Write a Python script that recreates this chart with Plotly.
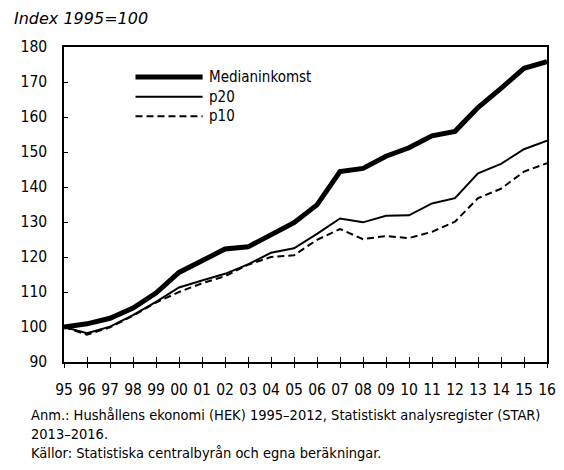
import plotly.graph_objects as go

years = list(range(1995, 2017))
tick_labels = ["95", "96", "97", "98", "99", "00", "01", "02", "03", "04", "05",
               "06", "07", "08", "09", "10", "11", "12", "13", "14", "15", "16"]
median = [100.0, 100.9, 102.5, 105.4, 109.7, 115.6, 118.9, 122.3, 122.9, 126.3, 129.8,
          134.9, 144.4, 145.3, 148.8, 151.2, 154.6, 155.9, 162.7, 168.2, 173.9, 175.8]
p20 = [100.0, 98.2, 100.1, 103.4, 107.2, 111.3, 113.3, 115.2, 117.9, 121.2, 122.5,
       126.6, 131.0, 129.9, 131.8, 131.9, 135.3, 136.8, 143.9, 146.6, 150.8, 153.2]
p10 = [100.0, 97.8, 99.9, 103.2, 107.0, 110.0, 112.5, 114.5, 117.8, 120.0, 120.5,
       124.9, 128.0, 125.1, 126.0, 125.4, 127.2, 130.1, 136.8, 139.5, 144.4, 146.8]
series_names = ["Medianinkomst", "p20", "p10"]

FONT = "DejaVu Sans Condensed, sans-serif"

fig = go.Figure()
fig.add_trace(go.Scatter(x=years, y=median, mode="lines", name=series_names[0],
                         line=dict(color="black", width=5), showlegend=False))
fig.add_trace(go.Scatter(x=years, y=p20, mode="lines", name=series_names[1],
                         line=dict(color="black", width=2), showlegend=False))
fig.add_trace(go.Scatter(x=years, y=p10, mode="lines", name=series_names[2],
                         line=dict(color="black", width=2, dash="7px,4px"), showlegend=False))
# helper traces for the crossing tick marks on the x axis
for ax in ("x2", "x3"):
    fig.add_trace(go.Scatter(x=[years[0], years[-1]], y=[None, None], xaxis=ax,
                             showlegend=False, hoverinfo="skip"))

# legend drawn as line samples + text
leg_y = [0.905, 0.842, 0.780]
leg_w = [5, 2, 2]
leg_dash = ["solid", "solid", "7px,4px"]
for name, yy, w, d in zip(series_names, leg_y, leg_w, leg_dash):
    fig.add_shape(type="line", xref="paper", yref="paper", x0=0.148, x1=0.287,
                  y0=yy, y1=yy, line=dict(color="black", width=w, dash=d))
    fig.add_annotation(text=name, xref="paper", yref="paper", x=0.297, y=yy,
                       xanchor="left", yanchor="middle", showarrow=False,
                       font=dict(family=FONT, size=15, color="black"))

fig.add_annotation(text="Index 1995=100", xref="paper", yref="paper",
                   x=-0.108, y=1.089, xanchor="left", yanchor="middle", showarrow=False,
                   font=dict(family="DejaVu Sans, Verdana, sans-serif", size=16,
                             color="black", style="italic", weight=400))

fig.add_annotation(
    text="Anm.: Hushållens ekonomi (HEK) 1995–2012, Statistiskt analysregister (STAR)<br>"
         "2013–2016.<br>Källor: Statistiska centralbyrån och egna beräkningar.",
    xref="paper", yref="paper", x=-0.073, y=-0.138, xanchor="left", yanchor="top",
    align="left", showarrow=False,
    font=dict(family=FONT, size=14.5, color="black"))

fig.update_layout(
    width=556, height=462,
    margin=dict(l=56, r=8, t=39, b=108),
    paper_bgcolor="white", plot_bgcolor="white",
    font=dict(family=FONT, size=15, color="black"),
    xaxis=dict(range=[1995, 2016], tickvals=years, ticktext=tick_labels,
               showgrid=False, zeroline=False, showline=True, linecolor="black",
               linewidth=1.5, mirror=True, ticks="outside", ticklen=13,
               tickwidth=1, tickcolor="rgba(0,0,0,0)", tickfont=dict(size=15.5)),
    xaxis2=dict(range=[1995, 2016], overlaying="x", side="bottom", tickvals=years,
                showticklabels=False, showgrid=False, zeroline=False, showline=False,
                ticks="inside", ticklen=5, tickwidth=1, tickcolor="black"),
    xaxis3=dict(range=[1995, 2016], overlaying="x", side="bottom", tickvals=years,
                showticklabels=False, showgrid=False, zeroline=False, showline=False,
                ticks="outside", ticklen=5, tickwidth=1, tickcolor="black"),
    yaxis=dict(range=[90, 180], dtick=10, showgrid=False, zeroline=False,
               showline=True, linecolor="black", linewidth=1.5, mirror=True,
               ticks="inside", ticklen=4, tickwidth=1, tickcolor="black",
               tickfont=dict(size=15.5), ticklabelstandoff=12),
)

fig.write_html("out.html")
